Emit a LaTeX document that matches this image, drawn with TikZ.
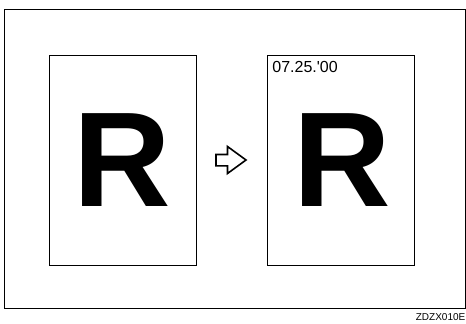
\documentclass[tikz,border=0pt]{standalone}
\usepackage{fontspec}
\setmainfont{Liberation Sans}
\begin{document}
\begin{tikzpicture}[x=1pt,y=-1pt,
  page/.style={draw=black,line width=1pt,minimum width=147pt,minimum height=210pt,inner sep=0pt,anchor=north west},
  bigR/.style={font=\fontsize{135}{135}\selectfont\bfseries,inner sep=0pt,anchor=base},
  datetext/.style={font=\fontsize{16}{16}\selectfont,inner sep=0pt,anchor=base west},
  code/.style={font=\fontsize{10}{10}\selectfont,inner sep=0pt,anchor=base east},
  blockarrow/.style={draw=black,line width=1.6pt,fill=white,line join=miter}]
\useasboundingbox (0,0) rectangle (466,324);
\node[draw=black,line width=1.2pt,minimum width=461pt,minimum height=299pt,inner sep=0pt,anchor=north west] (frame) at (3.6,9) {};
\node[page] (left) at (48.7,55) {};
\node[page] (right) at (266.7,55) {};
\node[bigR] (rl) at (122.2,206) {R};
\node[bigR] (rr) at (342.3,206) {R};
\node[datetext] (date) at (272.2,72.5) {07.25.\textquotesingle 00};
\draw[blockarrow] (216,154.5) -- (227.5,154.5) -- (227.5,146.5) -- (246,160) -- (227.5,173.5) -- (227.5,165.8) -- (216,165.8) -- cycle;
\node[code] (lbl) at (465.5,320.7) {ZDZX010E};
\end{tikzpicture}
\end{document}
